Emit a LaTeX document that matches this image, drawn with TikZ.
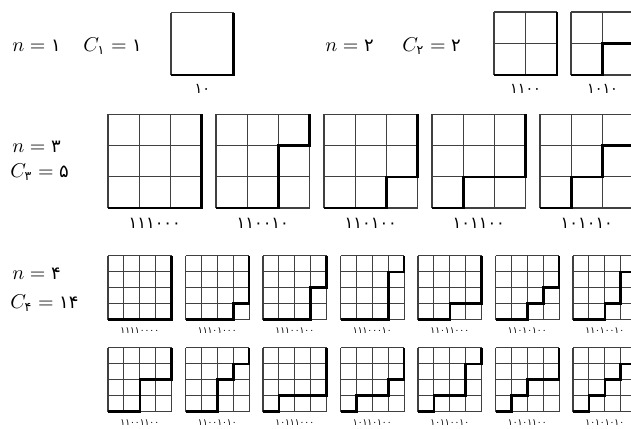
\documentclass[tikz,border=0pt]{standalone}
\usepackage{amsmath}
\usepackage{fontspec}
\newfontfamily\pfont[Script=Arabic,Scale=0.9]{DejaVu Sans}
\usetikzlibrary{positioning}

\newcommand{\fa}[1]{\text{\pfont #1}}

\tikzset{
  gridline/.style={draw=black!75, line width=0.55pt, step=1},
  pathline/.style={draw=black, line width=1.3pt, line join=miter},
  countlabel/.style={anchor=west, inner sep=0pt, font=\normalsize},
  wordbig/.style={inner sep=0pt, font=\pfont\fontsize{8}{9}\selectfont, yshift=-7pt},
  wordmid/.style={inner sep=0pt, font=\pfont\fontsize{9}{10}\selectfont, yshift=-7.5pt},
  wordsmall/.style={inner sep=0pt, font=\pfont\fontsize{5}{6}\selectfont, yshift=-5.5pt},
}

% one lattice path: [label style]{name}{n}{x}{y of bottom}{cell}{steps}
\newcommand{\dyck}[7][wordbig]{%
  \begin{scope}[shift={(#4,#5)}, x=#6, y=#6]
    \draw[gridline] (0,0) grid (#3,#3);
    \draw[pathline] (0,0) \foreach \s in {#7} { -- ++({\s},{1-\s}) };
    \node[#1] (#2) at ({#3/2},0)
      {\foreach \s in {#7}{\ifnum\s=1 ۱\else ۰\fi}};
  \end{scope}}

\begin{document}
\begin{tikzpicture}[x=0.5pt, y=-0.5pt]
  \useasboundingbox (0,0) rectangle (631,428);
  \clip (0,0) rectangle (631,428);

  %% ── n = 1 ──────────────────────────────────────────────
  \node[countlabel] (n1) at (12,46) {$n=\fa{۱}$};
  \node[countlabel] (c1) at (83,46) {$C_{\fa{۱}}=\fa{۱}$};
  \dyck{w10}{1}{171}{75}{31.25pt}{1,0}

  %% ── n = 2 ──────────────────────────────────────────────
  \node[countlabel] (n2) at (325,46) {$n=\fa{۲}$};
  \node[countlabel] (c2) at (402,46) {$C_{\fa{۲}}=\fa{۲}$};
  \dyck{w1100}{2}{494}{75}{15.75pt}{1,1,0,0}
  \dyck{w1010}{2}{571}{75}{15.75pt}{1,0,1,0}

  %% ── n = 3 ──────────────────────────────────────────────
  \node[countlabel] (n3) at (12,147) {$n=\fa{۳}$};
  \node[countlabel] (c3) at (10,172) {$C_{\fa{۳}}=\fa{۵}$};
  \dyck[wordmid]{w111000}{3}{108}{208}{15.6pt}{1,1,1,0,0,0}
  \dyck[wordmid]{w110010}{3}{216}{208}{15.6pt}{1,1,0,0,1,0}
  \dyck[wordmid]{w110100}{3}{324}{208}{15.6pt}{1,1,0,1,0,0}
  \dyck[wordmid]{w101100}{3}{432}{208}{15.6pt}{1,0,1,1,0,0}
  \dyck[wordmid]{w101010}{3}{540}{208}{15.6pt}{1,0,1,0,1,0}

  %% ── n = 4 ──────────────────────────────────────────────
  \node[countlabel] (n4) at (12,274) {$n=\fa{۴}$};
  \node[countlabel] (c4) at (10,303) {$C_{\fa{۴}}=\fa{۱۴}$};
  % first row
  \dyck[wordsmall]{w11110000}{4}{108}{319.5}{7.95pt}{1,1,1,1,0,0,0,0}
  \dyck[wordsmall]{w11101000}{4}{185.5}{319.5}{7.95pt}{1,1,1,0,1,0,0,0}
  \dyck[wordsmall]{w11100100}{4}{263}{319.5}{7.95pt}{1,1,1,0,0,1,0,0}
  \dyck[wordsmall]{w11100010}{4}{340.5}{319.5}{7.95pt}{1,1,1,0,0,0,1,0}
  \dyck[wordsmall]{w11011000}{4}{418}{319.5}{7.95pt}{1,1,0,1,1,0,0,0}
  \dyck[wordsmall]{w11010100}{4}{495.5}{319.5}{7.95pt}{1,1,0,1,0,1,0,0}
  \dyck[wordsmall]{w11010010}{4}{573}{319.5}{7.95pt}{1,1,0,1,0,0,1,0}
  % second row
  \dyck[wordsmall]{w11001100}{4}{108}{411.5}{7.95pt}{1,1,0,0,1,1,0,0}
  \dyck[wordsmall]{w11001010}{4}{185.5}{411.5}{7.95pt}{1,1,0,0,1,0,1,0}
  \dyck[wordsmall]{w10111000}{4}{263}{411.5}{7.95pt}{1,0,1,1,1,0,0,0}
  \dyck[wordsmall]{w10110100}{4}{340.5}{411.5}{7.95pt}{1,0,1,1,0,1,0,0}
  \dyck[wordsmall]{w10110010}{4}{418}{411.5}{7.95pt}{1,0,1,1,0,0,1,0}
  \dyck[wordsmall]{w10101100}{4}{495.5}{411.5}{7.95pt}{1,0,1,0,1,1,0,0}
  \dyck[wordsmall]{w10101010}{4}{573}{411.5}{7.95pt}{1,0,1,0,1,0,1,0}

\end{tikzpicture}
\end{document}
